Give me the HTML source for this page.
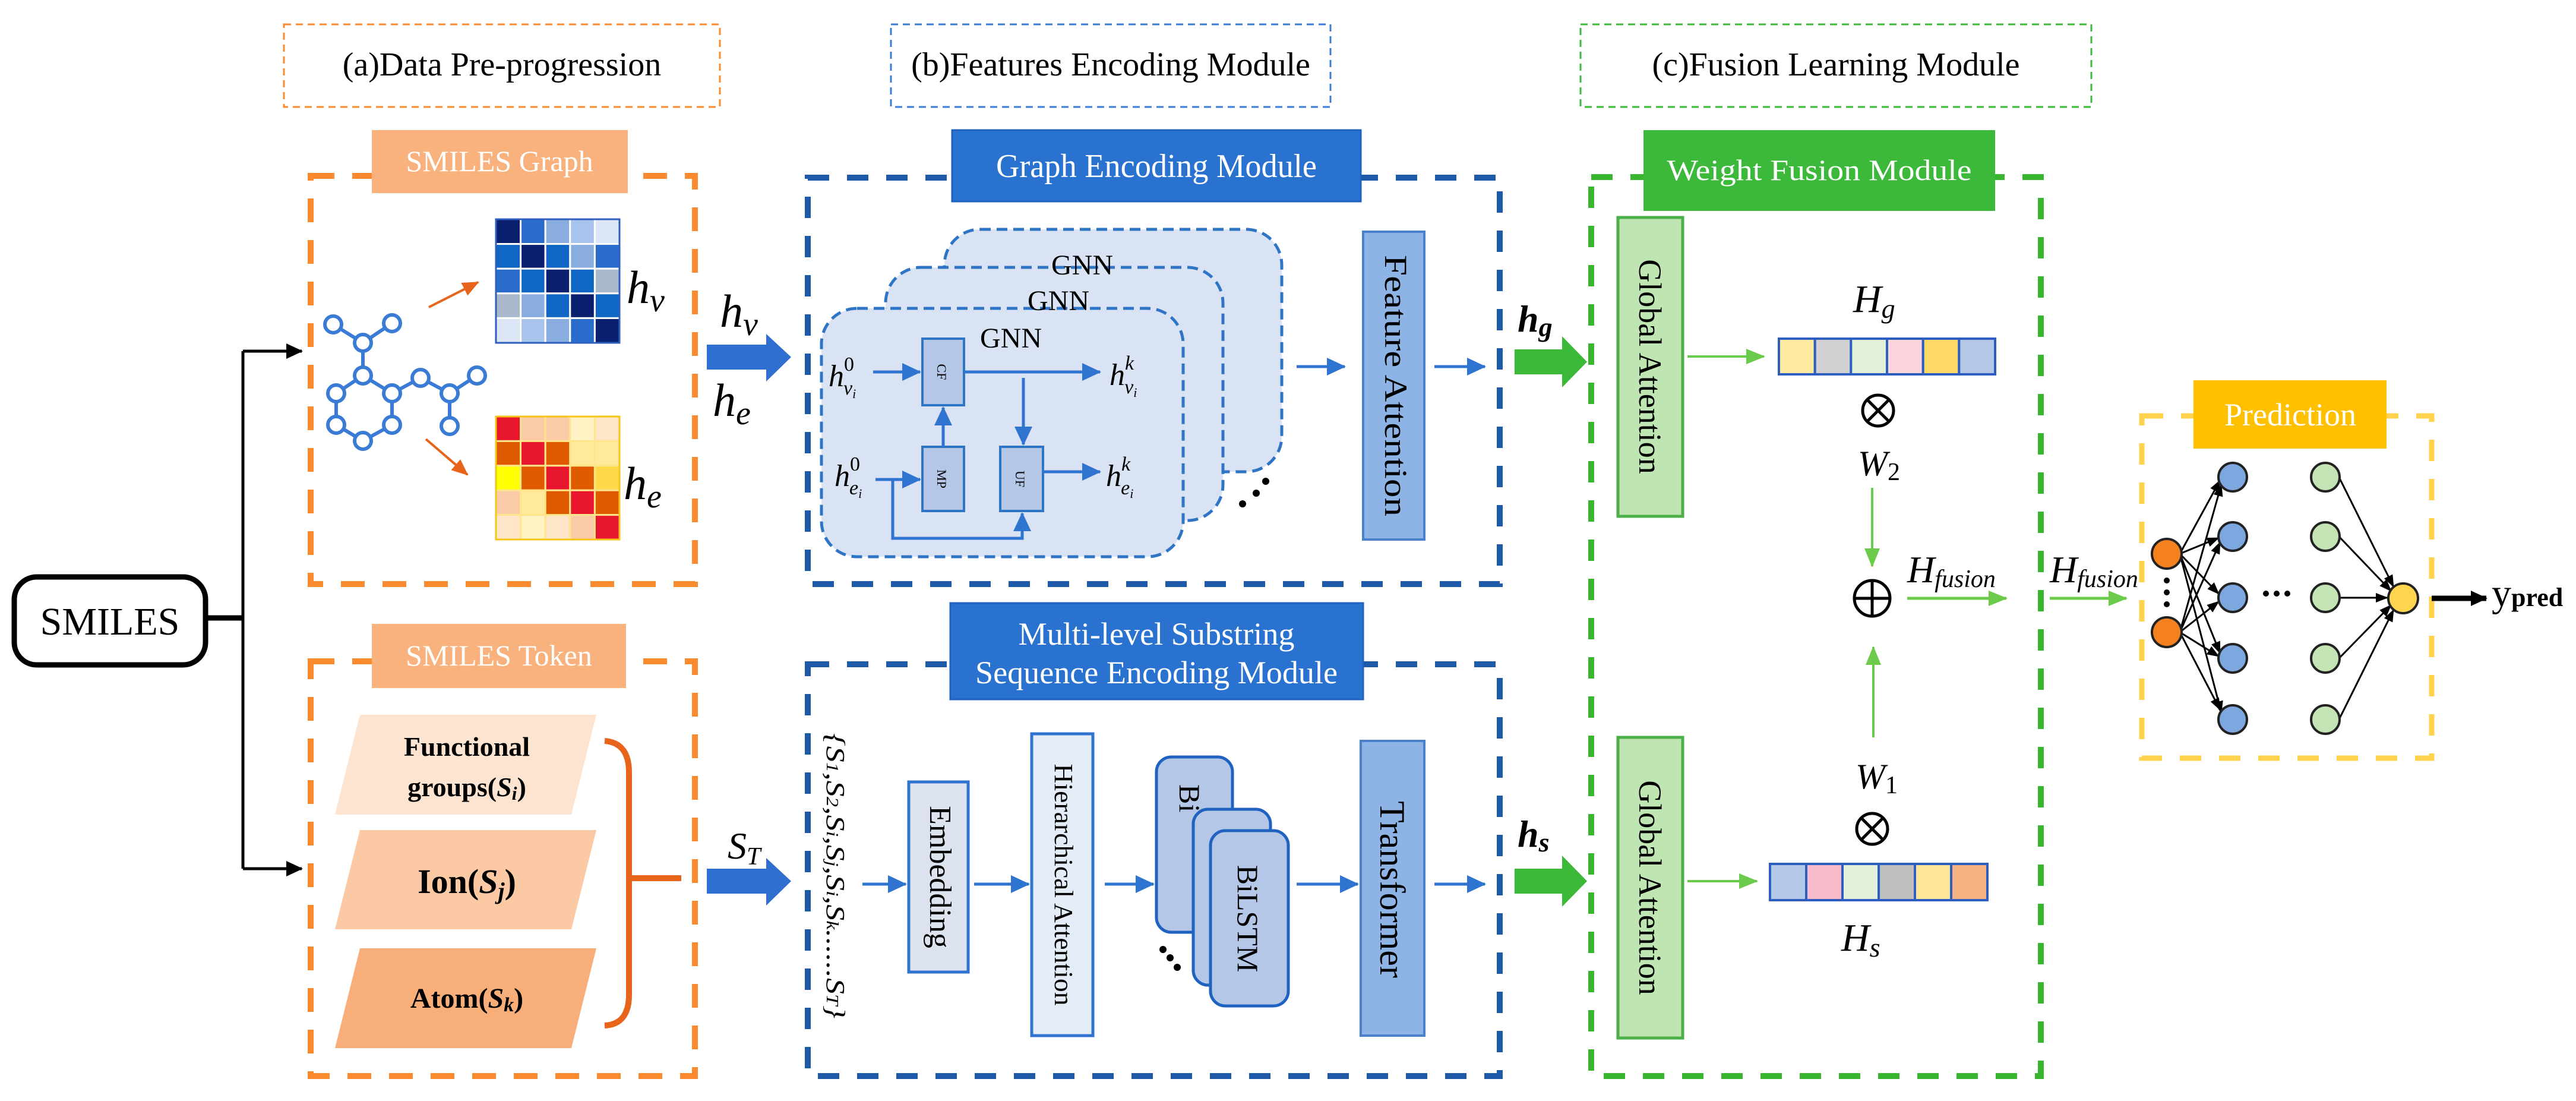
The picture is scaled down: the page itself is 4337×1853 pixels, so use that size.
<!DOCTYPE html>
<html><head><meta charset="utf-8"><style>
html,body{margin:0;padding:0;background:#fff;}
svg{display:block;font-family:"Liberation Serif","Times New Roman",serif;}
svg text{font-family:"Liberation Serif","Times New Roman",serif !important;}
</style></head><body>
<svg width="4337" height="1853" viewBox="0 0 4337 1853" xmlns="http://www.w3.org/2000/svg" font-family="Liberation Serif, serif">
<defs>
<marker id="mb" markerUnits="userSpaceOnUse" markerWidth="34" markerHeight="34" refX="30" refY="17" orient="auto"><path d="M0,2 L32,17 L0,32 Z" fill="#2F74D0"/></marker>
<marker id="mg" markerUnits="userSpaceOnUse" markerWidth="34" markerHeight="34" refX="30" refY="17" orient="auto"><path d="M0,4 L32,17 L0,30 Z" fill="#6CCB4A"/></marker>
<marker id="mk" markerUnits="userSpaceOnUse" markerWidth="30" markerHeight="30" refX="26" refY="15" orient="auto"><path d="M0,2 L28,15 L0,28 Z" fill="#000"/></marker>
<marker id="mks" markerUnits="userSpaceOnUse" markerWidth="22" markerHeight="22" refX="20" refY="11" orient="auto"><path d="M0,3 L21,11 L0,19 Z" fill="#000"/></marker>
<marker id="mo" markerUnits="userSpaceOnUse" markerWidth="30" markerHeight="30" refX="26" refY="15" orient="auto"><path d="M0,3 L28,15 L0,27 Z" fill="#E8641A"/></marker>
</defs>

<!-- Title boxes -->
<rect x="478" y="41" width="734" height="139" fill="none" stroke="#F98B2E" stroke-width="3" stroke-dasharray="12 8"/>
<text x="845" y="127" font-size="56" text-anchor="middle">(a)Data Pre-progression</text>
<rect x="1500" y="41" width="740" height="139" fill="none" stroke="#3B7BD4" stroke-width="3" stroke-dasharray="12 8"/>
<text x="1870" y="127" font-size="56" text-anchor="middle">(b)Features Encoding Module</text>
<rect x="2661" y="41" width="860" height="139" fill="none" stroke="#3DBA3A" stroke-width="3" stroke-dasharray="12 8"/>
<text x="3091" y="127" font-size="56" text-anchor="middle">(c)Fusion Learning Module</text>

<!-- SMILES box and connectors -->
<rect x="24" y="971" width="322" height="148" rx="38" fill="#fff" stroke="#000" stroke-width="9"/>
<text x="185" y="1068" font-size="66" text-anchor="middle">SMILES</text>
<path d="M346,1040 L409,1040" stroke="#000" stroke-width="9"/>
<path d="M409,591 L409,1462" stroke="#000" stroke-width="5"/>
<path d="M409,591 L508,591" stroke="#000" stroke-width="5" marker-end="url(#mk)"/>
<path d="M409,1462 L508,1462" stroke="#000" stroke-width="5" marker-end="url(#mk)"/>

<!-- SMILES Graph box -->
<rect x="523" y="296" width="647" height="687" fill="none" stroke="#F98B2E" stroke-width="10" stroke-dasharray="40 30"/>
<rect x="626" y="219" width="431" height="106" fill="#F9B27D"/>
<text x="841" y="288" font-size="50" fill="#fff" text-anchor="middle">SMILES Graph</text>

<!-- molecule -->
<g stroke="#3A7BD5" stroke-width="6" fill="none">
<path d="M561,546 L611,577 L660,544 M611,577 L611,632 L566,662 L566,715 L611,742 L660,715 L660,662 L611,632 M660,662 L708,636 L757,662 L803,632 M757,662 L757,717"/>
</g>
<g stroke="#3A7BD5" stroke-width="6" fill="#fff">
<circle cx="561" cy="546" r="14"/><circle cx="611" cy="577" r="14"/><circle cx="660" cy="544" r="14"/>
<circle cx="611" cy="632" r="14"/><circle cx="566" cy="662" r="14"/><circle cx="660" cy="662" r="14"/>
<circle cx="566" cy="715" r="14"/><circle cx="611" cy="742" r="14"/><circle cx="660" cy="715" r="14"/>
<circle cx="708" cy="636" r="14"/><circle cx="757" cy="662" r="14"/><circle cx="803" cy="632" r="14"/><circle cx="757" cy="717" r="14"/>
</g>
<path d="M722,517 L805,475" stroke="#E8641A" stroke-width="4" marker-end="url(#mo)"/>
<path d="M717,739 L787,799" stroke="#E8641A" stroke-width="4" marker-end="url(#mo)"/>

<!-- blue matrix -->
<g stroke="#fff" stroke-width="3">
<rect x="835" y="369" width="41.6" height="41.6" fill="#0A1F6E"/><rect x="876.6" y="369" width="41.6" height="41.6" fill="#2A6CCB"/><rect x="918.2" y="369" width="41.6" height="41.6" fill="#8AADE0"/><rect x="959.8" y="369" width="41.6" height="41.6" fill="#A8C4EC"/><rect x="1001.4" y="369" width="41.6" height="41.6" fill="#DCE6F7"/>
<rect x="835" y="410.6" width="41.6" height="41.6" fill="#0F67C3"/><rect x="876.6" y="410.6" width="41.6" height="41.6" fill="#0A1F6E"/><rect x="918.2" y="410.6" width="41.6" height="41.6" fill="#0F67C3"/><rect x="959.8" y="410.6" width="41.6" height="41.6" fill="#8AADE0"/><rect x="1001.4" y="410.6" width="41.6" height="41.6" fill="#2A6CCB"/>
<rect x="835" y="452.2" width="41.6" height="41.6" fill="#2A6CCB"/><rect x="876.6" y="452.2" width="41.6" height="41.6" fill="#0F67C3"/><rect x="918.2" y="452.2" width="41.6" height="41.6" fill="#0A1F6E"/><rect x="959.8" y="452.2" width="41.6" height="41.6" fill="#0F67C3"/><rect x="1001.4" y="452.2" width="41.6" height="41.6" fill="#A9B8CC"/>
<rect x="835" y="493.8" width="41.6" height="41.6" fill="#A9B8CC"/><rect x="876.6" y="493.8" width="41.6" height="41.6" fill="#8AADE0"/><rect x="918.2" y="493.8" width="41.6" height="41.6" fill="#0F67C3"/><rect x="959.8" y="493.8" width="41.6" height="41.6" fill="#0A1F6E"/><rect x="1001.4" y="493.8" width="41.6" height="41.6" fill="#0F67C3"/>
<rect x="835" y="535.4" width="41.6" height="41.6" fill="#DCE6F7"/><rect x="876.6" y="535.4" width="41.6" height="41.6" fill="#A8C4EC"/><rect x="918.2" y="535.4" width="41.6" height="41.6" fill="#8AADE0"/><rect x="959.8" y="535.4" width="41.6" height="41.6" fill="#2A6CCB"/><rect x="1001.4" y="535.4" width="41.6" height="41.6" fill="#0A1F6E"/>
</g>
<rect x="835" y="369" width="208" height="208" fill="none" stroke="#2E5FC0" stroke-width="3"/>
<!-- red matrix -->
<g stroke="#FFE58A" stroke-width="3">
<rect x="835" y="701" width="41.6" height="41.4" fill="#E8162E"/><rect x="876.6" y="701" width="41.6" height="41.4" fill="#FBCBA8"/><rect x="918.2" y="701" width="41.6" height="41.4" fill="#FBCBA8"/><rect x="959.8" y="701" width="41.6" height="41.4" fill="#FFF2C4"/><rect x="1001.4" y="701" width="41.6" height="41.4" fill="#FFE6C8"/>
<rect x="835" y="742.4" width="41.6" height="41.4" fill="#E05A00"/><rect x="876.6" y="742.4" width="41.6" height="41.4" fill="#E8162E"/><rect x="918.2" y="742.4" width="41.6" height="41.4" fill="#E05A00"/><rect x="959.8" y="742.4" width="41.6" height="41.4" fill="#FFE99A"/><rect x="1001.4" y="742.4" width="41.6" height="41.4" fill="#FFE99A"/>
<rect x="835" y="783.8" width="41.6" height="41.4" fill="#FFFF00"/><rect x="876.6" y="783.8" width="41.6" height="41.4" fill="#E05A00"/><rect x="918.2" y="783.8" width="41.6" height="41.4" fill="#E8162E"/><rect x="959.8" y="783.8" width="41.6" height="41.4" fill="#E05A00"/><rect x="1001.4" y="783.8" width="41.6" height="41.4" fill="#FFD94A"/>
<rect x="835" y="825.2" width="41.6" height="41.4" fill="#FBCBA8"/><rect x="876.6" y="825.2" width="41.6" height="41.4" fill="#FFE99A"/><rect x="918.2" y="825.2" width="41.6" height="41.4" fill="#E05A00"/><rect x="959.8" y="825.2" width="41.6" height="41.4" fill="#E8162E"/><rect x="1001.4" y="825.2" width="41.6" height="41.4" fill="#E05A00"/>
<rect x="835" y="866.6" width="41.6" height="41.4" fill="#FFE6C8"/><rect x="876.6" y="866.6" width="41.6" height="41.4" fill="#FFF2C4"/><rect x="918.2" y="866.6" width="41.6" height="41.4" fill="#FFE6C8"/><rect x="959.8" y="866.6" width="41.6" height="41.4" fill="#FBCBA8"/><rect x="1001.4" y="866.6" width="41.6" height="41.4" fill="#E8162E"/>
</g>
<rect x="835" y="701" width="208" height="207" fill="none" stroke="#F5C518" stroke-width="3"/>
<text x="1055" y="510" font-size="78" font-style="italic">h<tspan font-size="56" dy="14">v</tspan></text>
<text x="1050" y="840" font-size="78" font-style="italic">h<tspan font-size="56" dy="14">e</tspan></text>

<!-- SMILES Token box -->
<rect x="523" y="1113" width="647" height="698" fill="none" stroke="#F98B2E" stroke-width="10" stroke-dasharray="40 30"/>
<rect x="626" y="1050" width="428" height="108" fill="#F9B27D"/>
<text x="840" y="1120" font-size="50" fill="#fff" text-anchor="middle">SMILES Token</text>
<polygon points="606,1203 1004,1203 962,1371 564,1371" fill="#FDE4D0"/>
<polygon points="606,1397 1004,1397 962,1564 564,1564" fill="#FBC9A3"/>
<polygon points="606,1596 1004,1596 962,1764 564,1764" fill="#F8AE79"/>
<text x="786" y="1272" font-size="46" font-weight="bold" text-anchor="middle">Functional</text>
<text x="786" y="1340" font-size="46" font-weight="bold" text-anchor="middle">groups(<tspan font-style="italic">S</tspan><tspan font-style="italic" font-size="32" dy="6">i</tspan><tspan dy="-6">)</tspan></text>
<text x="786" y="1503" font-size="58" font-weight="bold" text-anchor="middle">Ion(<tspan font-style="italic">S</tspan><tspan font-style="italic" font-size="40" dy="10">j</tspan><tspan dy="-10">)</tspan></text>
<text x="786" y="1696" font-size="48" font-weight="bold" text-anchor="middle">Atom(<tspan font-style="italic">S</tspan><tspan font-style="italic" font-size="34" dy="6">k</tspan><tspan dy="-6">)</tspan></text>
<path d="M1018,1247 Q1059,1250 1059,1300 L1059,1674 Q1059,1724 1018,1726 M1059,1478 L1147,1478" fill="none" stroke="#E8641A" stroke-width="10"/>

<!-- fat blue arrows -->
<polygon points="1190,580 1290,580 1290,562 1332,601 1290,642 1290,622 1190,622" fill="#2F6FCF"/>
<polygon points="1190,1462 1290,1462 1290,1444 1332,1483 1290,1524 1290,1504 1190,1504" fill="#2F6FCF"/>
<text x="1212" y="550" font-size="78" font-style="italic">h<tspan font-size="56" dy="14">v</tspan></text>
<text x="1200" y="700" font-size="78" font-style="italic">h<tspan font-size="56" dy="14">e</tspan></text>
<text x="1225" y="1445" font-size="64" font-style="italic">S<tspan font-size="42" dy="10">T</tspan></text>

<!-- Graph Encoding Module -->
<rect x="1360" y="299" width="1165" height="684" fill="none" stroke="#1E5AA8" stroke-width="10" stroke-dasharray="36 30"/>
<rect x="1603" y="219" width="688" height="120" fill="#2A72D0" stroke="#1F62C0" stroke-width="3"/>
<text x="1947" y="298" font-size="56" fill="#fff" text-anchor="middle" textLength="540" lengthAdjust="spacingAndGlyphs">Graph Encoding Module</text>

<g fill="#DAE3F3" stroke="#2E75C6" stroke-width="5" stroke-dasharray="18 10">
<rect x="1590" y="386" width="568" height="408" rx="60"/>
<rect x="1491" y="450" width="568" height="426" rx="60"/>
<rect x="1383" y="519" width="609" height="418" rx="60"/>
</g>
<text x="1822" y="462" font-size="48" text-anchor="middle">GNN</text>
<text x="1782" y="522" font-size="48" text-anchor="middle">GNN</text>
<text x="1702" y="585" font-size="48" text-anchor="middle">GNN</text>
<g fill="#B4C7E7" stroke="#2E75C6" stroke-width="4">
<rect x="1553" y="570" width="70" height="112"/>
<rect x="1553" y="752" width="70" height="108"/>
<rect x="1684" y="752" width="72" height="108"/>
</g>
<text transform="translate(1578,626) rotate(90)" font-size="22" text-anchor="middle">CF</text>
<text transform="translate(1578,806) rotate(90)" font-size="22" text-anchor="middle">MP</text>
<text transform="translate(1710,806) rotate(90)" font-size="22" text-anchor="middle">UF</text>
<g stroke="#2F74D0" stroke-width="5" fill="none">
<path d="M1470,626 L1549,626" marker-end="url(#mb)"/>
<path d="M1623,626 L1852,626" marker-end="url(#mb)"/>
<path d="M1723,636 L1723,748" marker-end="url(#mb)"/>
<path d="M1588,752 L1588,686" marker-end="url(#mb)"/>
<path d="M1474,807 L1549,807" marker-end="url(#mb)"/>
<path d="M1756,794 L1852,794" marker-end="url(#mb)"/>
<path d="M1503,807 L1503,906 L1721,906 L1721,864" marker-end="url(#mb)"/>
</g>
<text x="1395" y="650" font-size="52" font-style="italic">h<tspan font-size="34" dy="-26" font-style="normal">0</tspan><tspan font-size="34" dx="-18" dy="40">v</tspan><tspan font-size="22" dy="6">i</tspan></text>
<text x="1405" y="818" font-size="52" font-style="italic">h<tspan font-size="34" dy="-26" font-style="normal">0</tspan><tspan font-size="34" dx="-18" dy="40">e</tspan><tspan font-size="22" dy="6">i</tspan></text>
<text x="1868" y="648" font-size="52" font-style="italic">h<tspan font-size="34" dy="-26">k</tspan><tspan font-size="34" dx="-16" dy="40">v</tspan><tspan font-size="22" dy="6">i</tspan></text>
<text x="1862" y="818" font-size="52" font-style="italic">h<tspan font-size="34" dy="-26">k</tspan><tspan font-size="34" dx="-16" dy="40">e</tspan><tspan font-size="22" dy="6">i</tspan></text>
<g fill="#000"><circle cx="2131" cy="810" r="6"/><circle cx="2115" cy="830" r="6"/><circle cx="2092" cy="848" r="6"/></g>
<path d="M2183,617 L2264,617" stroke="#2F74D0" stroke-width="5" marker-end="url(#mb)"/>
<rect x="2295" y="390" width="103" height="518" fill="#8EB4E6" stroke="#4A80CC" stroke-width="4"/>
<text transform="translate(2332,649) rotate(90)" font-size="54" text-anchor="middle" textLength="440" lengthAdjust="spacingAndGlyphs">Feature Attention</text>
<path d="M2415,617 L2500,617" stroke="#2F74D0" stroke-width="5" marker-end="url(#mb)"/>

<!-- Sequence module -->
<rect x="1360" y="1118" width="1165" height="693" fill="none" stroke="#1E5AA8" stroke-width="10" stroke-dasharray="36 30"/>
<rect x="1600" y="1015" width="695" height="162" fill="#2A72D0" stroke="#1F62C0" stroke-width="3"/>
<text x="1947" y="1085" font-size="54" fill="#fff" text-anchor="middle" textLength="465" lengthAdjust="spacingAndGlyphs">Multi-level Substring</text>
<text x="1947" y="1150" font-size="54" fill="#fff" text-anchor="middle" textLength="610" lengthAdjust="spacingAndGlyphs">Sequence Encoding Module</text>
<text transform="translate(1392,1474) rotate(90)" font-size="44" font-style="italic" text-anchor="middle" textLength="480" lengthAdjust="spacingAndGlyphs">{S<tspan font-size="28">1</tspan>,S<tspan font-size="28">2</tspan>,S<tspan font-size="28">i</tspan>,S<tspan font-size="28">j</tspan>,S<tspan font-size="28">i</tspan>,S<tspan font-size="28">k</tspan>......S<tspan font-size="28">T</tspan>}</text>
<rect x="1530" y="1316" width="100" height="320" fill="#DCE3EE" stroke="#2F74D0" stroke-width="5"/>
<text transform="translate(1566,1476) rotate(90)" font-size="52" text-anchor="middle">Embedding</text>
<rect x="1737" y="1235" width="103" height="508" fill="#E4ECF8" stroke="#2F74D0" stroke-width="5"/>
<text transform="translate(1776,1489) rotate(90)" font-size="44" text-anchor="middle" textLength="407" lengthAdjust="spacingAndGlyphs">Hierarchical Attention</text>
<g fill="#B4C7E7" stroke="#1F62C0" stroke-width="5">
<rect x="1947" y="1274" width="128" height="295" rx="25"/>
<rect x="2009" y="1362" width="130" height="296" rx="25"/>
<rect x="2038" y="1398" width="131" height="295" rx="25"/>
</g>
<text transform="translate(1986,1320) rotate(90)" font-size="50">Bi</text>
<text transform="translate(2084,1546) rotate(90)" font-size="50" text-anchor="middle">BiLSTM</text>
<g fill="#000"><circle cx="1958" cy="1598" r="6"/><circle cx="1970" cy="1612" r="6"/><circle cx="1982" cy="1628" r="6"/></g>
<rect x="2291" y="1247" width="107" height="496" fill="#8EB4E6" stroke="#4A80CC" stroke-width="4"/>
<text transform="translate(2324,1497) rotate(90)" font-size="60" text-anchor="middle">Transformer</text>
<g stroke="#2F74D0" stroke-width="5">
<path d="M1452,1488 L1525,1488" marker-end="url(#mb)"/>
<path d="M1640,1488 L1732,1488" marker-end="url(#mb)"/>
<path d="M1860,1488 L1942,1488" marker-end="url(#mb)"/>
<path d="M2183,1488 L2286,1488" marker-end="url(#mb)"/>
<path d="M2415,1488 L2500,1488" marker-end="url(#mb)"/>
</g>

<!-- green fat arrows -->
<polygon points="2550,588 2630,588 2630,566 2672,609 2630,652 2630,630 2550,630" fill="#3DB93A"/>
<polygon points="2550,1462 2630,1462 2630,1440 2672,1483 2630,1526 2630,1504 2550,1504" fill="#3DB93A"/>
<text x="2555" y="558" font-size="64" font-style="italic" font-weight="bold">h<tspan font-size="46" dy="8">g</tspan></text>
<text x="2555" y="1425" font-size="64" font-style="italic" font-weight="bold">h<tspan font-size="46" dy="8">s</tspan></text>

<!-- Weight Fusion Module -->
<rect x="2679" y="298" width="757" height="1513" fill="none" stroke="#3AB52F" stroke-width="10" stroke-dasharray="36 30"/>
<rect x="2767" y="219" width="592" height="136" fill="#3CB93B"/>
<text x="3063" y="303" font-size="50" fill="#fff" text-anchor="middle" textLength="513" lengthAdjust="spacingAndGlyphs">Weight  Fusion Module</text>
<rect x="2724" y="366" width="109" height="503" fill="#BFE5B2" stroke="#4CB04A" stroke-width="5"/>
<text transform="translate(2760,617) rotate(90)" font-size="54" text-anchor="middle">Global Attention</text>
<rect x="2724" y="1241" width="109" height="506" fill="#BFE5B2" stroke="#4CB04A" stroke-width="5"/>
<text transform="translate(2760,1494) rotate(90)" font-size="54" text-anchor="middle">Global Attention</text>
<g stroke="#6CCB4A" stroke-width="4">
<path d="M2841,600 L2970,600" marker-end="url(#mg)"/>
<path d="M2841,1483 L2958,1483" marker-end="url(#mg)"/>
<path d="M3152,821 L3152,953" marker-end="url(#mg)"/>
<path d="M3154,1241 L3154,1089" marker-end="url(#mg)"/>
<path d="M3211,1007 L3378,1007" stroke-width="5" marker-end="url(#mg)"/>
<path d="M3451,1007 L3580,1007" stroke-width="5" marker-end="url(#mg)"/>
</g>
<g stroke="#2E5FC0" stroke-width="4">
<rect x="2995" y="570" width="60.7" height="60" fill="#FDE9A0"/><rect x="3055.7" y="570" width="60.7" height="60" fill="#D0D0D0"/><rect x="3116.3" y="570" width="60.7" height="60" fill="#E2F0D9"/><rect x="3177" y="570" width="60.7" height="60" fill="#FCD5DC"/><rect x="3237.7" y="570" width="60.7" height="60" fill="#FFD966"/><rect x="3298.3" y="570" width="60.7" height="60" fill="#B4C7E7"/>
<rect x="2980" y="1454" width="61" height="61" fill="#B4C7E7"/><rect x="3041" y="1454" width="61" height="61" fill="#F8BBCB"/><rect x="3102" y="1454" width="61" height="61" fill="#E2F0D9"/><rect x="3163" y="1454" width="61" height="61" fill="#BFBFBF"/><rect x="3224" y="1454" width="61" height="61" fill="#FFE699"/><rect x="3285" y="1454" width="61" height="61" fill="#F8B183"/>
</g>
<text x="3120" y="525" font-size="66" font-style="italic">H<tspan font-size="46" dy="10">g</tspan></text>
<text x="3100" y="1600" font-size="66" font-style="italic">H<tspan font-size="46" dy="10">s</tspan></text>
<g fill="none" stroke="#000" stroke-width="5">
<circle cx="3162" cy="691" r="26"/><path d="M3144,673 L3180,709 M3180,673 L3144,709"/>
<circle cx="3152" cy="1395" r="26"/><path d="M3134,1377 L3170,1413 M3170,1377 L3134,1413"/>
<circle cx="3152" cy="1007" r="30"/><path d="M3122,1007 L3182,1007 M3152,977 L3152,1037"/>
</g>
<text x="3128" y="800" font-size="60" font-style="italic">W<tspan font-size="42" dy="8" font-style="normal">2</tspan></text>
<text x="3124" y="1327" font-size="60" font-style="italic">W<tspan font-size="42" dy="8" font-style="normal">1</tspan></text>
<text x="3211" y="980" font-size="64" font-style="italic">H<tspan font-size="42" dy="8">fusion</tspan></text>
<text x="3451" y="980" font-size="64" font-style="italic">H<tspan font-size="42" dy="8">fusion</tspan></text>

<!-- Prediction -->
<rect x="3606" y="700" width="488" height="576" fill="none" stroke="#FFD34D" stroke-width="9" stroke-dasharray="36 30"/>
<rect x="3693" y="640" width="325" height="115" fill="#FFC000"/>
<text x="3856" y="716" font-size="54" fill="#fff" text-anchor="middle">Prediction</text>
<g stroke="#000" stroke-width="3" fill="none">
<path d="M3670,932 L3738,808" marker-end="url(#mks)"/><path d="M3670,932 L3736,905" marker-end="url(#mks)"/><path d="M3670,932 L3736,1000" marker-end="url(#mks)"/><path d="M3670,932 L3738,1100" marker-end="url(#mks)"/><path d="M3670,932 L3740,1200" marker-end="url(#mks)"/>
<path d="M3670,1064 L3740,815" marker-end="url(#mks)"/><path d="M3670,1064 L3738,912" marker-end="url(#mks)"/><path d="M3670,1064 L3736,1012" marker-end="url(#mks)"/><path d="M3670,1064 L3736,1105" marker-end="url(#mks)"/><path d="M3670,1064 L3738,1195" marker-end="url(#mks)"/>
<path d="M3938,803 L4030,988" marker-end="url(#mks)"/><path d="M3938,903 L4026,995" marker-end="url(#mks)"/><path d="M3939,1006 L4020,1006" marker-end="url(#mks)"/><path d="M3938,1108 L4026,1018" marker-end="url(#mks)"/><path d="M3938,1211 L4030,1026" marker-end="url(#mks)"/>
</g>
<g stroke="#222" stroke-width="4">
<circle cx="3648" cy="932" r="25" fill="#F5801E"/><circle cx="3648" cy="1064" r="25" fill="#F5801E"/>
<circle cx="3759" cy="803" r="24" fill="#7DA7DF"/><circle cx="3759" cy="903" r="24" fill="#7DA7DF"/><circle cx="3759" cy="1006" r="24" fill="#7DA7DF"/><circle cx="3759" cy="1108" r="24" fill="#7DA7DF"/><circle cx="3759" cy="1211" r="24" fill="#7DA7DF"/>
<circle cx="3915" cy="803" r="24" fill="#C5E4B5"/><circle cx="3915" cy="903" r="24" fill="#C5E4B5"/><circle cx="3915" cy="1006" r="24" fill="#C5E4B5"/><circle cx="3915" cy="1108" r="24" fill="#C5E4B5"/><circle cx="3915" cy="1211" r="24" fill="#C5E4B5"/>
<circle cx="4046" cy="1007" r="25" fill="#FFD54F"/>
</g>
<g fill="#000"><circle cx="3648" cy="977" r="5"/><circle cx="3648" cy="997" r="5"/><circle cx="3648" cy="1017" r="5"/>
<circle cx="3815" cy="999" r="5"/><circle cx="3833" cy="999" r="5"/><circle cx="3851" cy="999" r="5"/></g>
<path d="M4094,1007 L4186,1007" stroke="#000" stroke-width="9" marker-end="url(#mk)"/>
<text x="4195" y="1020" font-size="66">y<tspan font-size="44" font-weight="bold">pred</tspan></text>
</svg>
</body></html>
